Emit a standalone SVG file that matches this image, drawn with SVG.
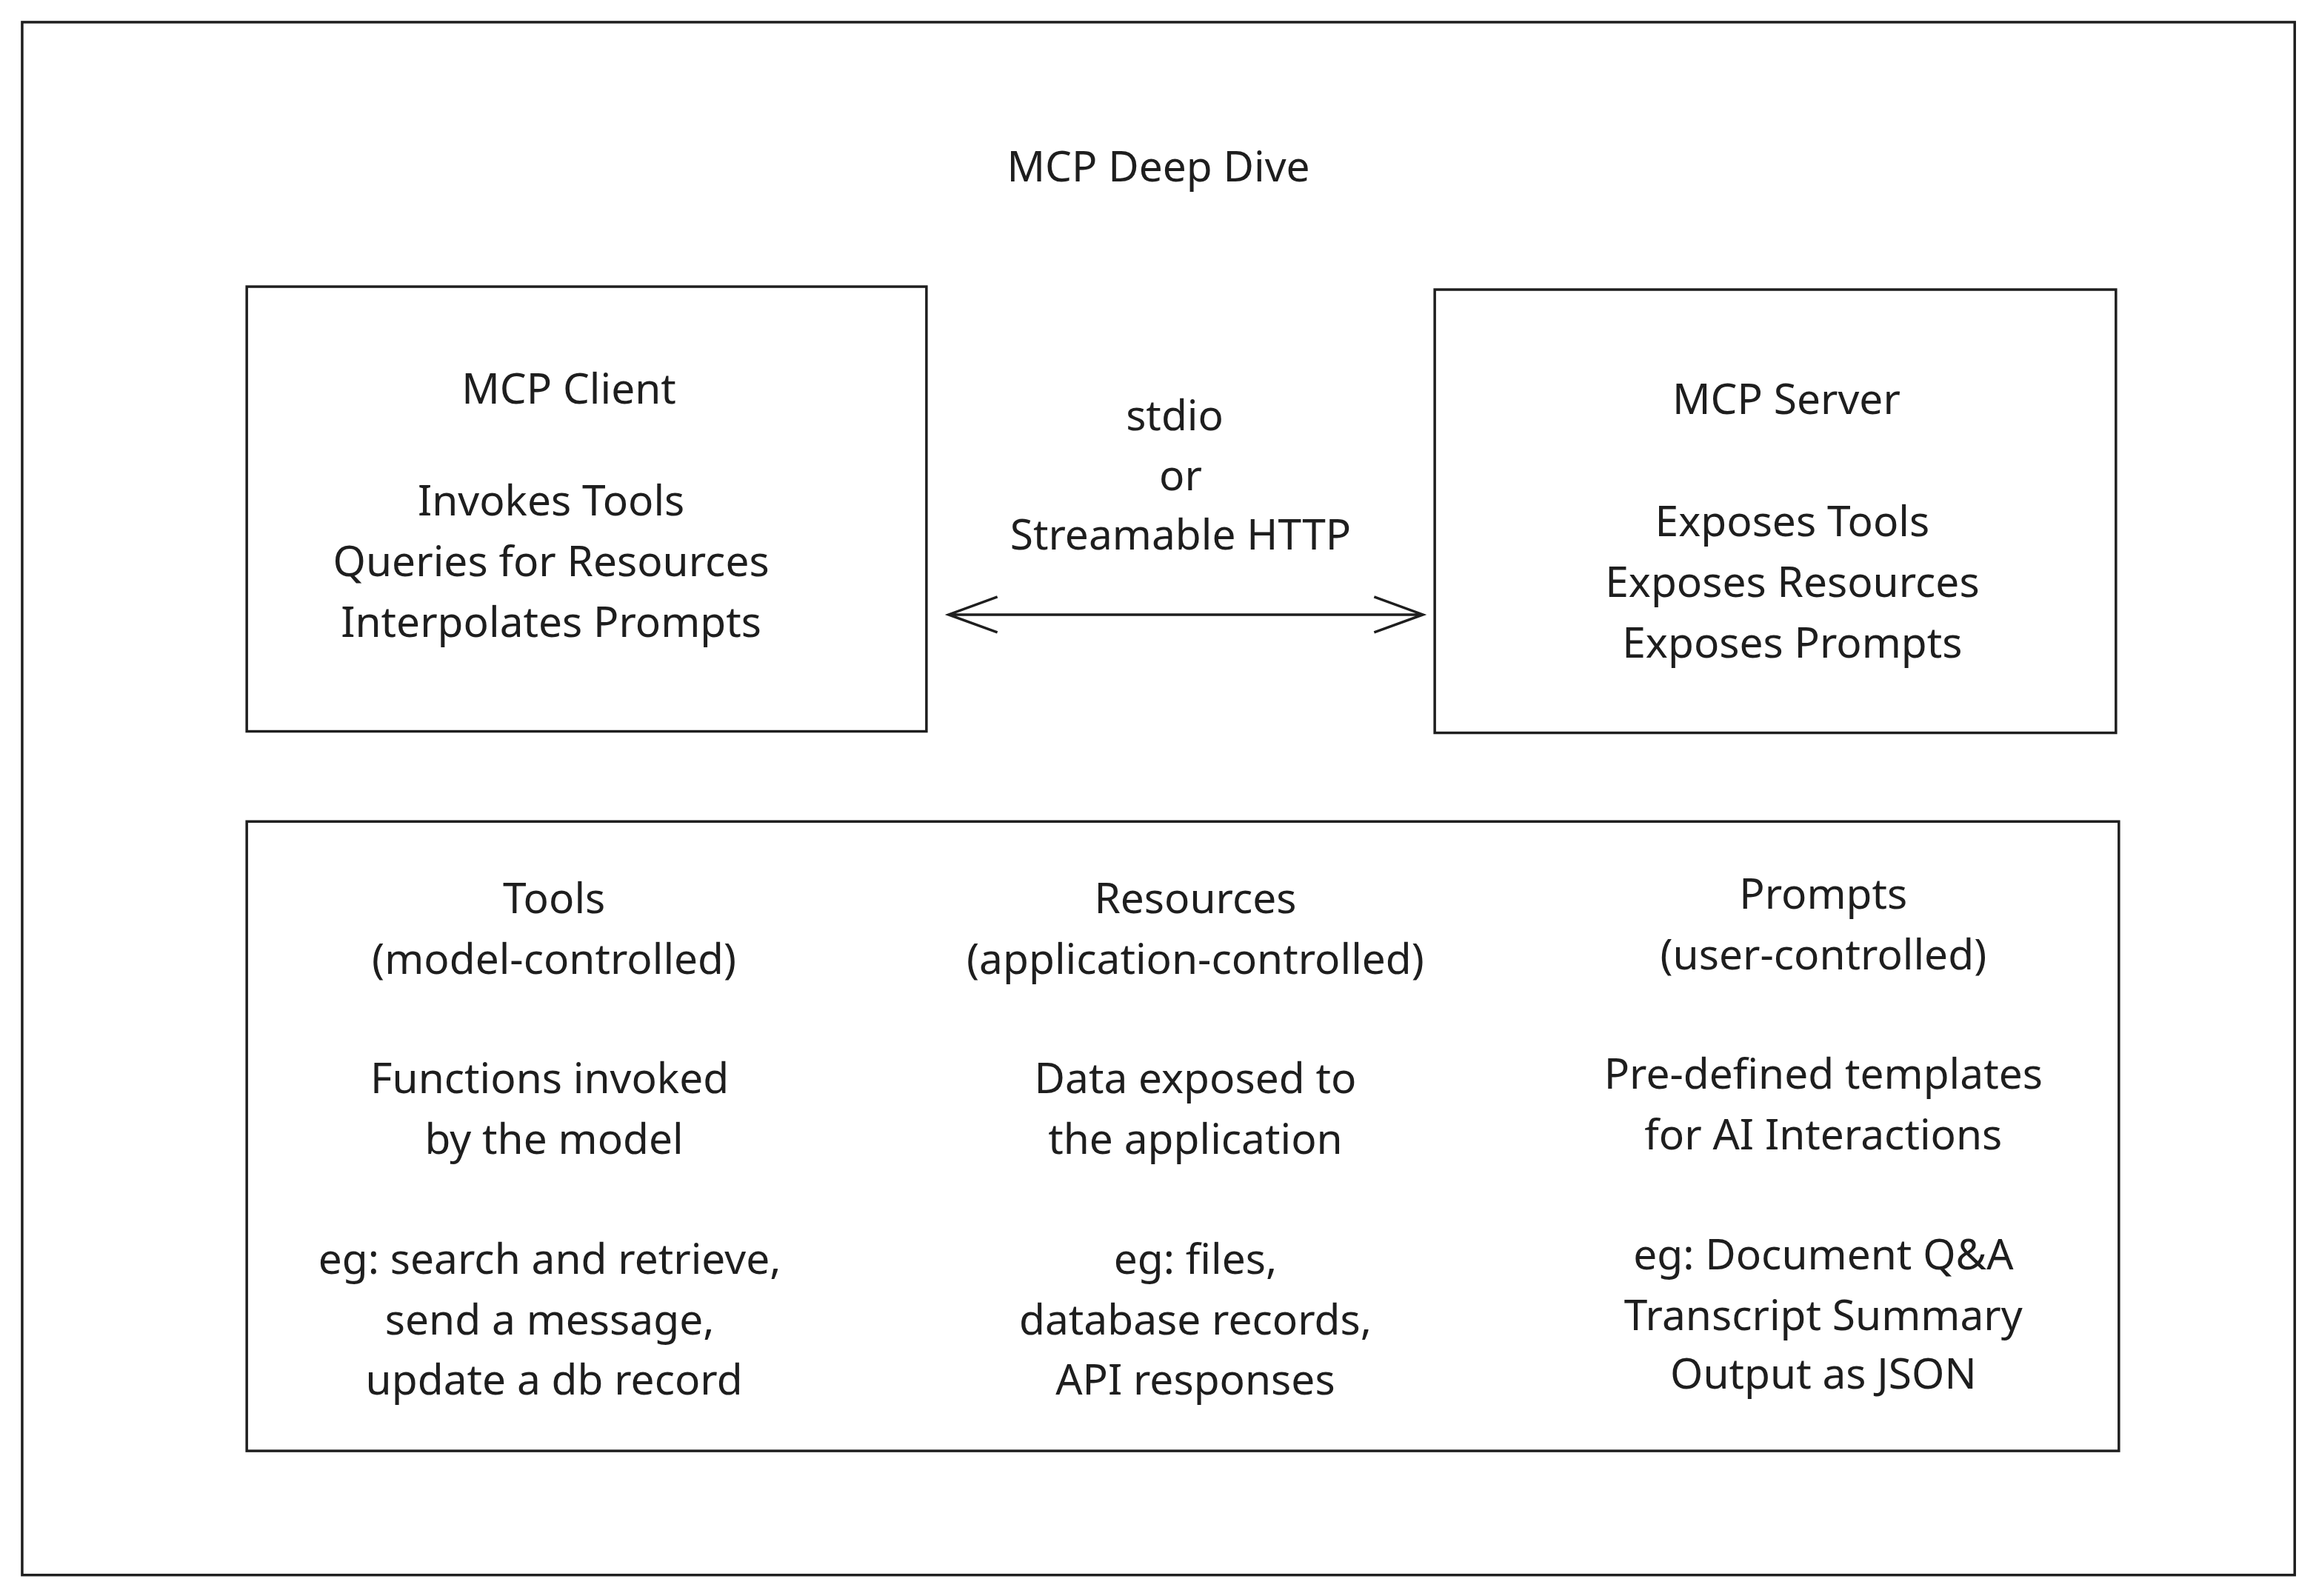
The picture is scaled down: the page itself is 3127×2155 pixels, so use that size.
<svg xmlns="http://www.w3.org/2000/svg" width="3127" height="2155" viewBox="0 0 3127 2155">
<style>
.b{fill:none;stroke:#1e1e1e;stroke-width:3.5}
text{font-family:"Noto Sans","Liberation Sans",sans-serif;font-size:57px;fill:#1e1e1e;text-anchor:middle;dominant-baseline:central}
</style>
<rect width="3127" height="2155" fill="#fff"/>
<g transform="scale(0.9975)">
<g id="frame"><rect class="b" x="30" y="30" width="3076" height="2102"/>
<text x="1568" y="224">MCP Deep Dive</text></g>
<g id="client"><rect class="b" x="334" y="388" width="920" height="602"/>
<text x="770" y="524">MCP Client</text>
<text x="746" y="676">Invokes Tools</text>
<text x="746" y="758">Queries for Resources</text>
<text x="746" y="840">Interpolates Prompts</text></g>
<g id="server"><rect class="b" x="1942" y="392" width="922" height="600"/>
<text x="2418" y="538">MCP Server</text>
<text x="2426" y="704">Exposes Tools</text>
<text x="2426" y="786">Exposes Resources</text>
<text x="2426" y="868">Exposes Prompts</text></g>
<g id="connectors">
<path class="b" d="M1284 832 H1926 M1350 808 L1284 832 L1350 856 M1860 808 L1926 832 L1860 856"/>
<text x="1590" y="560">stdio</text>
<text x="1598" y="642">or</text>
<text x="1598" y="722">Streamable HTTP</text>
</g>
<g id="primitives"><rect class="b" x="334" y="1112" width="2534" height="852"/>
<text x="750" y="1214">Tools</text>
<text x="750" y="1296">(model-controlled)</text>
<text x="744" y="1458">Functions invoked</text>
<text x="750" y="1540">by the model</text>
<text x="744" y="1702">eg: search and retrieve,</text>
<text x="744" y="1784">send a message,</text>
<text x="750" y="1866">update a db record</text>
<text x="1618" y="1214">Resources</text>
<text x="1618" y="1296">(application-controlled)</text>
<text x="1618" y="1458">Data exposed to</text>
<text x="1618" y="1540">the application</text>
<text x="1618" y="1702">eg: files,</text>
<text x="1618" y="1784">database records,</text>
<text x="1618" y="1866">API responses</text>
<text x="2468" y="1208">Prompts</text>
<text x="2468" y="1290">(user-controlled)</text>
<text x="2468" y="1452">Pre-defined templates</text>
<text x="2468" y="1534">for AI Interactions</text>
<text x="2468" y="1696">eg: Document Q&amp;A</text>
<text x="2468" y="1778">Transcript Summary</text>
<text x="2468" y="1858">Output as JSON</text></g>
</g>
</svg>
